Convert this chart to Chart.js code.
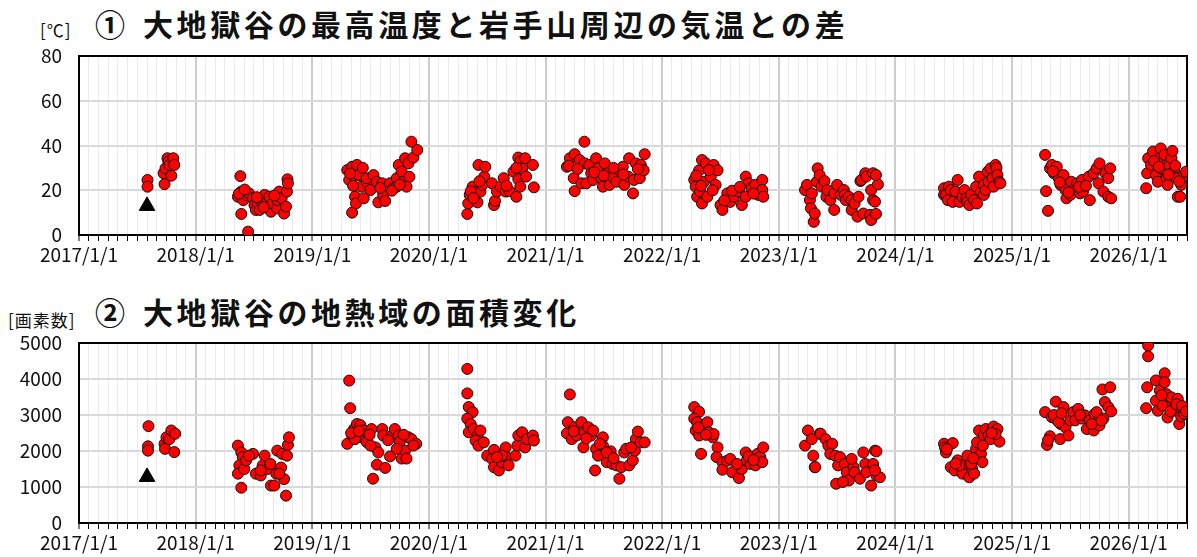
<!DOCTYPE html>
<html>
<head>
<meta charset="utf-8">
<script src="https://cdn.jsdelivr.net/npm/chart.js@4.4.0/dist/chart.umd.min.js"></script>
<style>
  body { margin: 0; background: #fff; width: 1197px; height: 557px; overflow: hidden; position: relative; font-family: "Noto Sans CJK JP", sans-serif; color: #111; }
  canvas { position: absolute; left: 0; }
  .title { position: absolute; font-size: 30px; font-weight: 700; letter-spacing: 3.6px; white-space: nowrap; line-height: 1; }
  .unit { position: absolute; font-size: 17px; letter-spacing: 1px; white-space: nowrap; line-height: 1; }
</style>
</head>
<body>
<div class="unit" style="left:40px;top:21px">[℃]</div>
<div class="title" style="left:95px;top:8px">①</div>
<div class="title" style="left:143px;top:8px">大地獄谷の最高温度と岩手山周辺の気温との差</div>
<canvas id="tempChart" width="1197" height="285" style="top:0"></canvas>

<div class="unit" style="left:8px;top:311px">[画素数]</div>
<div class="title" style="left:95px;top:296px">②</div>
<div class="title" style="left:143px;top:296px">大地獄谷の地熱域の面積変化</div>
<canvas id="areaChart" width="1197" height="272" style="top:285px"></canvas>

<script>
// x values are months after 2017/1/1
const startYear = 2017;
const lastMonth = 114;

// ① temperature difference [℃]
const tempMonth = [
  7.05, 7.05, 8.7, 8.8, 8.9, 9.1, 9.2, 9.3, 9.5, 9.7, 9.8,
  16.35, 16.6, 16.7, 16.7, 16.9, 17.2, 17.4, 17.5, 17.9, 18.05, 18.2, 18.4, 18.6, 18.7, 19.1, 19.2, 19.4, 19.6, 19.75, 19.9, 20.4, 20.4, 20.6, 20.85, 21.1, 21.3, 21.4, 21.45, 21.5, 16.45, 17.05, 18.3, 20.1, 19.0,
  27.6, 27.8, 28.1, 28.1, 28.3, 28.4, 28.5, 28.6, 28.8, 29.05, 29.2, 29.3, 29.6, 29.6, 30.0, 30.3, 30.65, 30.8, 31.2, 31.3, 31.5, 32.0, 32.35, 32.7, 32.7, 32.9, 33.2, 33.4, 33.55, 33.7, 33.9, 34.2, 34.4, 34.8, 27.9, 28.2, 31.0, 32.2, 33.0, 34.0,
  39.95, 40.05, 40.2, 40.5, 40.8, 41.0, 41.1, 41.3, 41.5, 41.7, 41.8, 42.5, 42.7, 42.8, 43.0, 43.4, 43.7, 43.9, 44.3, 44.7, 45.0, 45.2, 45.2, 45.4, 45.4, 45.6, 45.9, 46.0, 46.7, 46.8, 40.3, 40.6, 41.2, 44.0, 45.0,
  50.2, 50.5, 50.9, 51.0, 51.0, 51.5, 51.7, 52.0, 52.05, 52.2, 52.5, 52.7, 52.9, 53.2, 53.4, 53.75, 53.9, 54.1, 54.4, 54.6, 54.9, 55.3, 55.6, 55.95, 56.1, 56.5, 56.6, 57.0, 57.1, 57.3, 57.7, 57.8, 58.1, 58.2, 50.4, 51.3, 53.0, 54.0, 55.0, 56.0, 57.5,
  63.3, 63.45, 63.6, 63.8, 63.9, 64.1, 64.1, 64.3, 64.5, 64.65, 65.0, 65.3, 65.5, 65.7, 66.0, 66.2, 66.7, 67.0, 67.4, 67.9, 68.2, 68.6, 68.6, 68.9, 69.2, 69.6, 69.9, 70.3, 70.3, 70.4, 63.5, 64.0, 64.8, 65.2, 66.4, 67.2, 68.0, 69.4,
  74.7, 74.9, 75.2, 75.3, 75.4, 75.6, 75.7, 75.9, 76.0, 76.2, 76.4, 76.7, 76.9, 77.0, 77.3, 77.7, 77.7, 78.0, 78.4, 78.7, 78.8, 78.9, 79.2, 79.5, 79.5, 79.8, 80.1, 80.2, 80.4, 80.5, 80.7, 80.9, 81.0, 81.4, 81.5, 81.5, 81.7, 81.7, 81.9, 82.0, 82.2, 82.0,
  89.0, 89.0, 89.2, 89.4, 89.5, 89.7, 89.9, 90.2, 90.4, 90.6, 90.9, 91.1, 91.3, 91.4, 91.6, 91.8, 92.1, 92.3, 92.4, 92.6, 92.8, 93.1, 93.1, 93.3, 93.5, 93.6, 93.8, 94.0, 94.1, 94.3, 94.4, 94.5, 94.7, 94.8,
  99.4, 99.5, 99.7, 99.9, 100.1, 100.3, 100.6, 100.8, 101.0, 101.3, 101.5, 101.6, 102.0, 102.1, 102.5, 102.7, 103.0, 103.2, 103.3, 103.9, 104.0, 104.4, 104.7, 104.9, 105.0, 105.4, 105.6, 105.9, 106.1, 105.9, 106.2, 100.2, 100.9, 101.8, 102.9, 103.6,
  109.8, 109.9, 110.0, 110.3, 110.5, 110.8, 111.0, 111.2, 111.3, 111.3, 111.5, 111.7, 111.9, 111.9, 112.0, 112.2, 112.4, 112.5, 112.7, 112.9, 113.05, 113.3, 113.4, 113.6, 113.9, 110.6, 111.1, 112.1, 112.8, 113.2
];
const tempValue = [
  24.6, 21.6, 27.6, 22.7, 29.8, 34.3, 32.8, 31.3, 26.5, 34.3, 31.3,
  17.1, 26.3, 19.4, 9.4, 15.6, 17.9, 1.5, 18.6, 16.4, 13.4, 11.2, 14.1, 11.2, 15.6, 17.9, 13.4, 14.8, 17.1, 10.4, 14.1, 11.9, 15.6, 19.4, 16.4, 9.6, 12.7, 19.4, 24.9, 23.1, 18.5, 20.3, 16.9, 17.6, 12.4,
  29.0, 24.6, 30.5, 10.0, 26.1, 17.1, 14.1, 31.3, 26.8, 21.6, 30.0, 16.4, 23.8, 25.4, 20.1, 26.8, 23.8, 14.6, 23.1, 17.9, 15.2, 23.1, 20.9, 25.4, 21.6, 31.3, 28.3, 23.8, 34.3, 21.6, 32.0, 41.7, 34.6, 38.0, 27.5, 22.0, 21.0, 19.8, 22.5, 26.0,
  9.4, 14.1, 17.9, 21.6, 19.4, 14.6, 31.3, 19.4, 22.4, 26.1, 30.5, 23.1, 13.4, 15.2, 19.4, 21.6, 25.4, 19.4, 19.6, 28.3, 17.1, 34.6, 24.9, 32.8, 21.6, 29.8, 34.3, 26.1, 31.3, 21.3, 19.5, 16.5, 24.0, 22.0, 30.0,
  30.5, 34.3, 25.4, 36.1, 19.6, 33.5, 23.1, 41.7, 32.0, 23.1, 31.3, 27.6, 24.6, 34.3, 29.8, 25.4, 21.6, 32.0, 27.6, 22.4, 26.1, 23.8, 28.9, 30.5, 22.4, 26.1, 34.3, 18.6, 24.6, 32.0, 25.4, 31.3, 28.9, 36.1, 31.0, 29.5, 28.0, 26.5, 30.0, 27.0, 29.5,
  24.6, 21.6, 17.1, 28.9, 19.4, 33.5, 14.1, 23.8, 32.0, 17.1, 26.1, 31.3, 22.4, 28.9, 13.4, 11.2, 18.6, 14.8, 17.1, 19.4, 13.4, 26.1, 17.1, 23.1, 20.9, 22.4, 17.9, 24.6, 20.1, 17.1, 26.5, 22.0, 29.0, 20.0, 15.5, 19.8, 21.5, 18.5,
  20.1, 22.4, 15.6, 11.9, 18.6, 5.9, 9.6, 23.8, 29.8, 26.8, 21.6, 24.1, 17.1, 20.1, 15.6, 18.6, 11.2, 22.4, 17.9, 20.1, 17.9, 15.6, 17.1, 15.6, 11.2, 14.1, 8.2, 17.1, 24.1, 24.6, 9.6, 27.6, 26.1, 9.0, 6.7, 20.1, 27.6, 15.6, 14.9, 9.4, 22.6, 26.8,
  20.9, 17.9, 17.9, 15.6, 21.6, 20.1, 14.8, 19.4, 24.6, 14.8, 17.1, 20.1, 16.4, 14.8, 13.4, 17.9, 15.6, 21.6, 14.1, 26.1, 19.4, 22.4, 17.9, 20.1, 28.3, 23.8, 29.8, 25.4, 21.6, 31.3, 30.0, 26.8, 23.8, 23.1,
  35.8, 19.6, 10.8, 29.8, 31.3, 27.6, 30.5, 25.4, 22.4, 26.8, 20.1, 16.4, 17.9, 23.8, 20.9, 23.1, 18.6, 24.6, 19.4, 26.1, 15.6, 27.6, 29.8, 23.1, 32.0, 19.4, 27.6, 25.4, 29.8, 17.1, 16.4, 28.5, 23.5, 19.0, 21.5, 22.0,
  20.9, 27.6, 34.3, 31.3, 37.3, 26.8, 23.8, 34.3, 38.7, 29.8, 29.8, 35.8, 25.4, 31.3, 22.4, 31.3, 34.3, 37.6, 28.3, 25.4, 17.1, 17.1, 22.4, 26.1, 28.3, 33.0, 30.5, 27.0, 31.0, 24.0
];
const tempMarkMonth = [7.0];
const tempMarkValue = [13.0];

// ② geothermal area [pixels]
const areaMonth = [
  7.15, 7.1, 7.1, 8.8, 8.85, 9.0, 9.3, 9.5, 9.9, 9.8,
  16.35, 16.7, 16.85, 16.5, 16.35, 16.7, 17.0, 17.2, 17.9, 18.2, 18.7, 18.9, 19.1, 19.4, 19.7, 19.75, 20.1, 20.3, 20.4, 20.8, 20.9, 21.1, 21.3, 21.4, 21.5, 21.6, 18.7, 20.6, 17.5,
  27.8, 27.9, 27.6, 28.1, 28.3, 28.6, 28.95, 29.1, 28.4, 29.3, 29.6, 30.1, 30.25, 30.5, 30.65, 30.8, 31.2, 31.3, 31.5, 32.0, 32.2, 32.5, 32.9, 33.0, 33.2, 33.55, 33.7, 33.9, 34.2, 34.7, 32.7, 30.0, 28.0, 28.8, 29.9, 31.8, 33.4, 34.4,
  39.95, 39.95, 40.1, 40.5, 39.95, 40.3, 40.1, 40.6, 41.0, 41.3, 40.8, 41.1, 41.65, 42.0, 42.7, 42.5, 42.7, 43.2, 43.5, 43.9, 44.0, 44.2, 43.5, 44.9, 45.1, 45.2, 45.6, 45.9, 46.1, 46.7, 46.8, 43.0,
  50.5, 50.3, 50.2, 50.7, 51.0, 51.2, 51.7, 51.9, 52.05, 52.4, 52.7, 52.9, 53.1, 53.2, 53.4, 53.9, 53.9, 54.3, 54.7, 54.9, 55.3, 55.6, 55.8, 56.1, 56.3, 56.6, 56.98, 57.2, 57.3, 57.5, 57.8, 58.2, 54.3, 50.9, 52.2, 53.6, 55.0, 56.8,
  63.3, 63.8, 63.3, 63.6, 63.45, 63.8, 64.0, 64.3, 64.65, 64.8, 65.2, 65.3, 65.7, 65.6, 66.2, 66.2, 66.7, 67.0, 67.2, 67.9, 68.2, 68.6, 68.7, 69.1, 69.6, 69.8, 70.1, 70.3, 70.4, 67.7, 63.7, 64.5, 68.9, 69.4,
  75.0, 74.7, 75.7, 75.55, 76.2, 75.4, 75.75, 76.3, 76.8, 77.1, 77.5, 77.3, 77.8, 78.1, 78.3, 78.8, 79.0, 79.2, 77.9, 78.6, 79.7, 79.8, 80.35, 80.7, 80.9, 81.0, 81.5, 81.7, 81.9, 82.05, 82.05, 82.4, 81.9, 79.5,
  89.0, 89.2, 89.9, 89.7, 90.1, 90.4, 90.9, 91.1, 91.4, 91.6, 91.9, 92.1, 92.3, 92.4, 92.6, 92.8, 92.95, 93.1, 93.3, 93.6, 93.8, 94.0, 94.1, 94.5, 94.7, 94.3, 90.6, 91.8, 89.1, 89.3, 90.2, 92.0, 93.0, 93.9,
  99.4, 99.6, 99.9, 100.1, 100.45, 100.5, 100.95, 101.0, 101.3, 101.5, 101.8, 102.0, 102.3, 102.5, 102.8, 103.2, 103.5, 103.7, 104.0, 104.4, 104.5, 104.7, 105.0, 105.4, 105.55, 105.3, 106.1, 105.9, 106.2, 99.7, 100.3, 100.8, 101.1, 103.0, 104.2, 105.2,
  110.0, 110.0, 109.9, 109.8, 110.8, 111.2, 111.7, 111.3, 111.0, 111.7, 111.9, 112.2, 112.4, 112.0, 112.7, 113.05, 113.2, 113.2, 113.4, 113.7, 110.8, 111.5, 111.4, 112.3, 112.9, 113.5, 113.9
];
const areaValue = [
  2690, 2130, 2010, 2200, 2060, 2380, 2330, 2570, 2480, 1970,
  2150, 1960, 1830, 1600, 1370, 980, 1500, 1740, 1920, 1370, 1320, 1600, 1870, 1500, 1640, 1040, 1040, 1370, 2010, 1540, 1920, 1220, 760, 1870, 2170, 2380, 1460, 1370, 1870,
  3955, 3190, 2200, 2430, 2610, 2750, 2720, 2380, 2330, 2570, 2250, 2610, 1230, 2100, 1620, 1960, 2610, 2430, 1530, 1850, 2430, 2610, 2430, 2250, 1790, 2010, 1790, 2380, 2330, 2200, 2060, 2150, 2500, 2550, 2450, 2300, 2450, 2150,
  4280, 3600, 3220, 3080, 2900, 2750, 2520, 2610, 2430, 2570, 2290, 2150, 2240, 1870, 2030, 1780, 1550, 1460, 1690, 2100, 1830, 1600, 1870, 1870, 2150, 2430, 2520, 2100, 2330, 2430, 2290, 1830,
  3570, 2800, 2490, 2330, 2660, 2430, 2800, 2100, 2520, 2660, 2430, 2570, 1460, 2060, 1870, 2380, 2150, 1690, 1990, 1640, 1600, 1230, 1550, 1960, 2060, 1600, 1740, 2010, 2330, 2540, 2240, 2240, 1960, 2550, 2350, 2200, 1800, 2100,
  3220, 3090, 2900, 2800, 2570, 2430, 1920, 2710, 2800, 2520, 2380, 2470, 2100, 1830, 1690, 1480, 1730, 1780, 1410, 1250, 1500, 1960, 1730, 1640, 1600, 1920, 1830, 1690, 2100, 1640, 2650, 2450, 1850, 1750,
  2570, 2150, 1550, 1870, 2480, 2330, 1550, 2480, 2330, 2150, 2200, 1920, 1870, 1600, 1830, 1640, 1410, 1180, 1090, 1140, 1550, 1410, 1230, 1960, 1640, 1410, 1040, 1640, 2010, 1990, 1320, 1270, 1460, 1780,
  2200, 1960, 2220, 1550, 1460, 1740, 1370, 1640, 1870, 1270, 1500, 1370, 2060, 2240, 2570, 1920, 1690, 2430, 2610, 2430, 2330, 2610, 2680, 2610, 2260, 2470, 1600, 1640, 2100, 2050, 1650, 1800, 2150, 2500,
  3080, 2170, 2410, 2940, 2900, 3370, 2330, 2750, 3220, 2660, 2430, 2850, 3080, 2850, 3170, 2900, 2990, 2610, 2850, 2570, 3030, 3080, 2710, 2900, 3360, 3710, 3770, 3220, 3100, 2300, 3000, 2800, 3050, 3000, 2750, 2850,
  4930, 4630, 3770, 3190, 3960, 3680, 4160, 3400, 3120, 3910, 3580, 3260, 3490, 2930, 3120, 3450, 3220, 2750, 2960, 3030, 3400, 3260, 3550, 3100, 3300, 3250, 3100
];
const areaMarkMonth = [7.0];
const areaMarkValue = [1280];

const tickFont = { family: '"Noto Sans CJK JP", sans-serif', size: 19 };

// top and right edge of the plot frame
const framePlugin = {
  id: 'frame',
  beforeDatasetsDraw(chart) {
    const { ctx, chartArea: a } = chart;
    ctx.save();
    ctx.strokeStyle = '#000';
    ctx.lineWidth = 2;
    ctx.strokeRect(a.left, a.top, a.right - a.left, a.bottom - a.top);
    ctx.restore();
  }
};

function toPoints(xs, ys) {
  return xs.map((x, i) => ({ x: x, y: ys[i] }));
}

function buildChart(id, months, values, markMonth, markValue, yMax, yStep, padTop, axisHeight) {
  return new Chart(document.getElementById(id), {
    type: 'scatter',
    data: {
      datasets: [{
        data: toPoints(months, values),
        pointStyle: 'circle',
        pointRadius: 5.5,
        pointBackgroundColor: '#ff0000',
        pointBorderColor: '#111',
        pointBorderWidth: 1
      }, {
        data: toPoints(markMonth, markValue),
        pointStyle: 'triangle',
        pointRadius: 9,
        pointBackgroundColor: '#000',
        pointBorderColor: '#000',
        pointBorderWidth: 1
      }]
    },
    options: {
      responsive: false,
      animation: false,
      layout: { padding: { top: padTop, right: 3, left: 0, bottom: 0 } },
      plugins: { legend: { display: false }, tooltip: { enabled: false } },
      scales: {
        x: {
          type: 'linear',
          min: 0,
          max: lastMonth,
          afterFit: s => { s.height = axisHeight; },
          afterBuildTicks: s => {
            s.ticks = [];
            for (let m = 0; m <= lastMonth; m++) s.ticks.push({ value: m });
          },
          ticks: {
            autoSkip: false,
            maxRotation: 0,
            padding: 2,
            color: '#111',
            font: tickFont,
            callback: v => v % 12 === 0 ? (startYear + v / 12) + '/1/1' : ''
          },
          grid: {
            color: c => c.tick && c.tick.value % 12 === 0 ? '#cccccc' : '#ebebeb',
            lineWidth: c => c.tick && c.tick.value % 12 === 0 ? 2 : 1,
            tickColor: '#000',
            tickLength: 6,
            tickWidth: 1
          },
          border: { color: '#000', width: 2 }
        },
        y: {
          min: 0,
          max: yMax,
          afterFit: s => { s.width = 79; },
          ticks: { stepSize: yStep, padding: 17, color: '#111', font: tickFont, callback: v => String(v) },
          grid: { color: '#d9d9d9', lineWidth: 2, drawTicks: false },
          border: { color: '#000', width: 2 }
        }
      }
    },
    plugins: [framePlugin]
  });
}

buildChart('tempChart', tempMonth, tempValue, tempMarkMonth, tempMarkValue, 80, 20, 56, 50);
buildChart('areaChart', areaMonth, areaValue, areaMarkMonth, areaMarkValue, 5000, 1000, 58, 34);
</script>
</body>
</html>
